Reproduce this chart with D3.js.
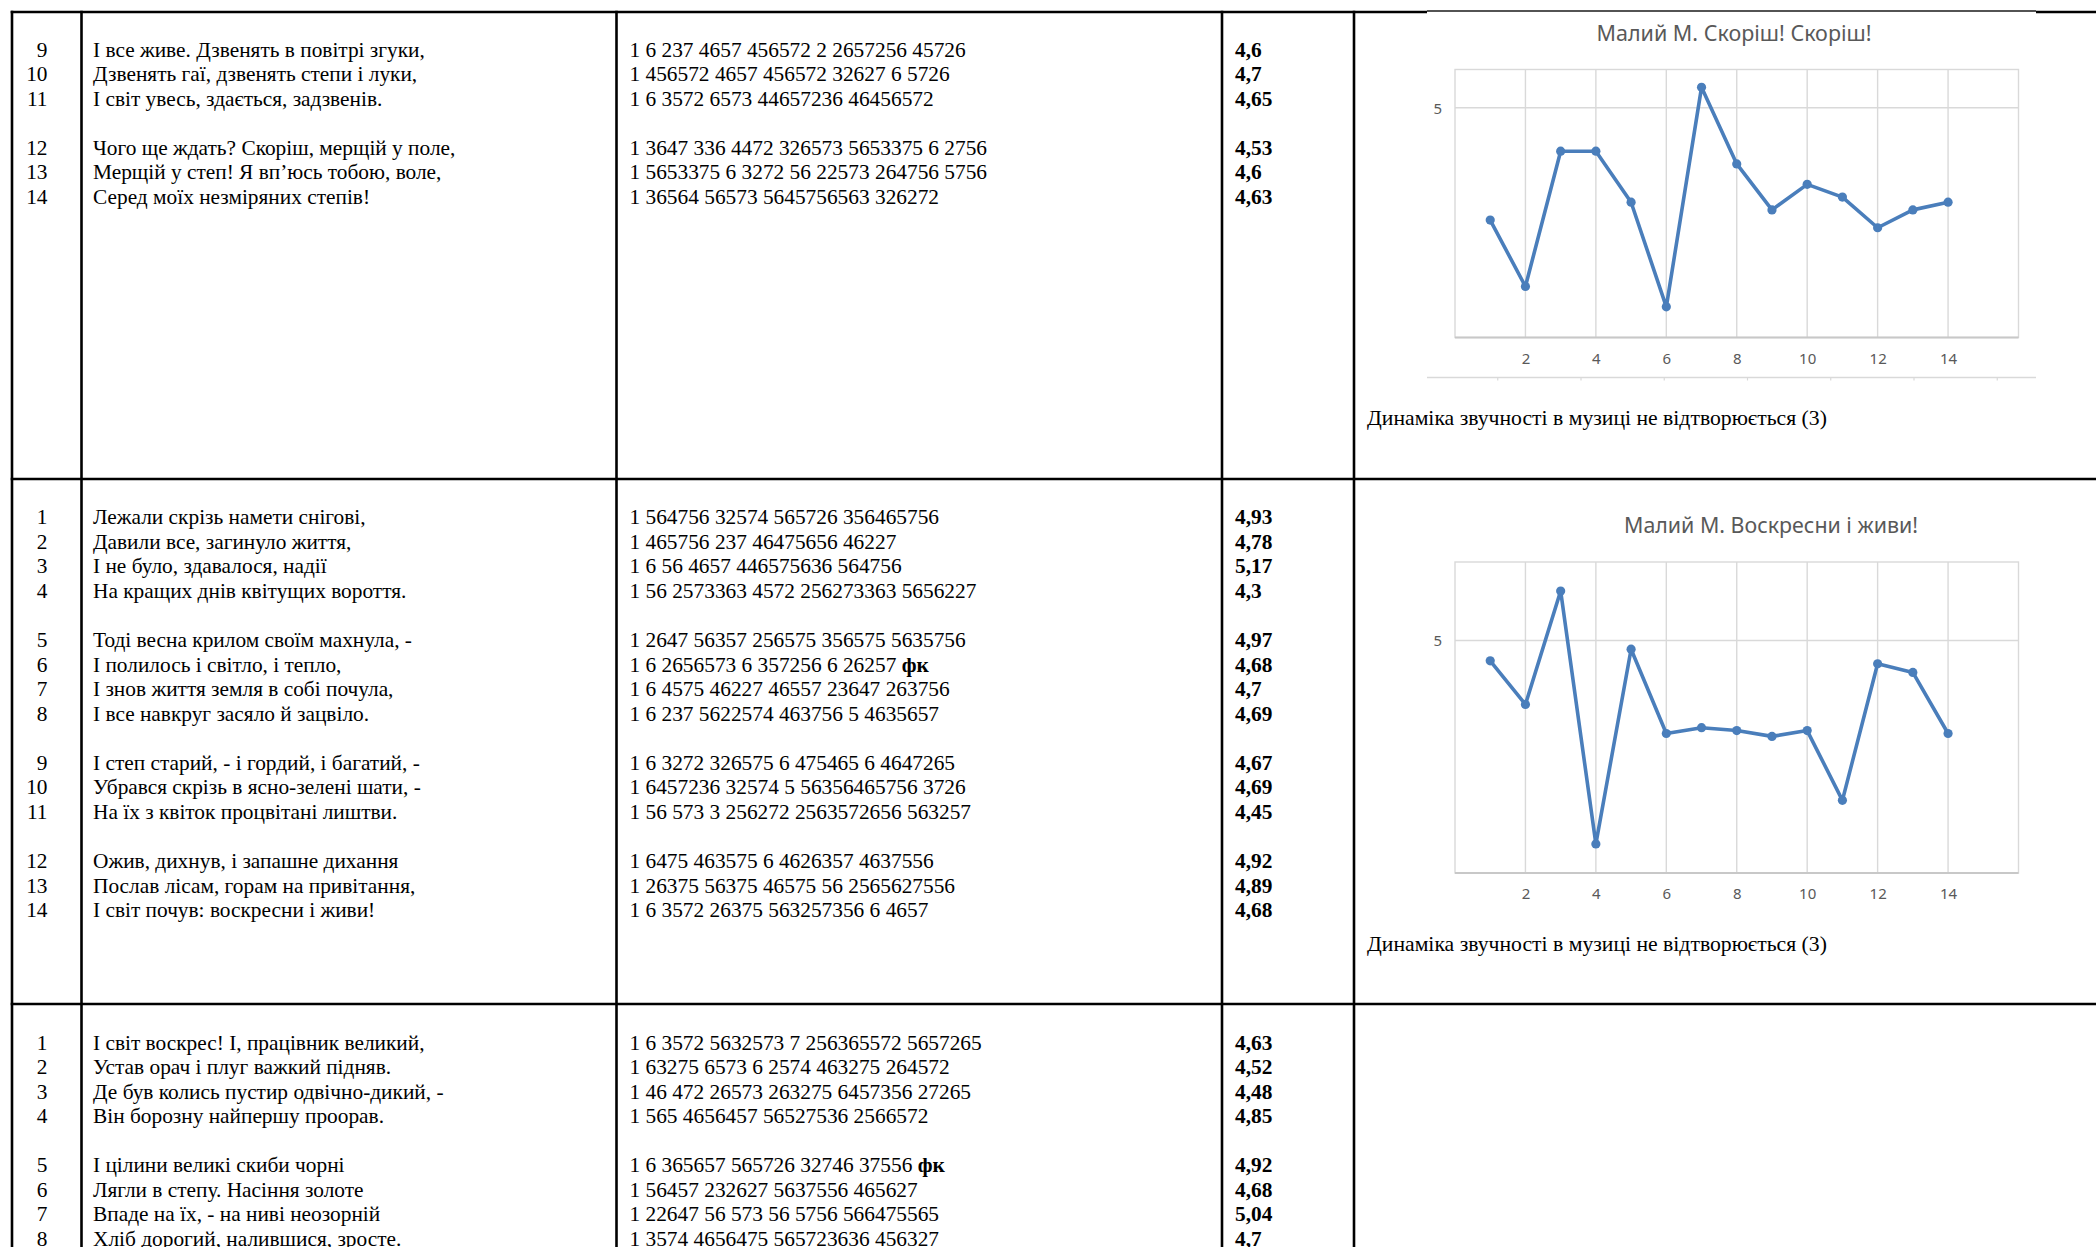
<!DOCTYPE html>
<html><head><meta charset="utf-8">
<script src="https://cdn.jsdelivr.net/npm/d3@7"></script>
<style>body{margin:0;background:#fff}svg{display:block}</style>
</head><body>
<script>
// ---------------- DATA ----------------
// Section 1 (poem "Скоріш! Скоріш!", lines 9-14); null = blank line between stanzas
const sec1Numbers = [9, 10, 11, null, 12, 13, 14];
const sec1Lyrics = [
  "І все живе. Дзвенять в повітрі згуки,",
  "Дзвенять гаї, дзвенять степи і луки,",
  "І світ увесь, здається, задзвенів.",
  null,
  "Чого ще ждать? Скоріш, мерщій у поле,",
  "Мерщій у степ! Я вп’юсь тобою, воле,",
  "Серед моїх незміряних степів!"
];
const sec1Codes = [
  "1 6 237 4657 456572 2 2657256 45726",
  "1 456572 4657 456572 32627 6 5726",
  "1 6 3572 6573 44657236 46456572",
  null,
  "1 3647 336 4472 326573 5653375 6 2756",
  "1 5653375 6 3272 56 22573 264756 5756",
  "1 36564 56573 5645756563 326272"
];
const sec1Values = ["4,6", "4,7", "4,65", null, "4,53", "4,6", "4,63"];

// Section 2 (poem "Воскресни і живи!")
const sec2Numbers = [1, 2, 3, 4, null, 5, 6, 7, 8, null, 9, 10, 11, null, 12, 13, 14];
const sec2Lyrics = [
  "Лежали скрізь намети снігові,",
  "Давили все, загинуло життя,",
  "І не було, здавалося, надії",
  "На кращих днів квітущих вороття.",
  null,
  "Тоді весна крилом своїм махнула, -",
  "І полилось і світло, і тепло,",
  "І знов життя земля в собі почула,",
  "І все навкруг засяло й зацвіло.",
  null,
  "І степ старий, - і гордий, і багатий, -",
  "Убрався скрізь в ясно-зелені шати, -",
  "На їх з квіток процвітані лиштви.",
  null,
  "Ожив, дихнув, і запашне дихання",
  "Послав лісам, горам на привітання,",
  "І світ почув: воскресни і живи!"
];
const sec2Codes = [
  "1 564756 32574 565726 356465756",
  "1 465756 237 46475656 46227",
  "1 6 56 4657 446575636 564756",
  "1 56 2573363 4572 256273363 5656227",
  null,
  "1 2647 56357 256575 356575 5635756",
  "1 6 2656573 6 357256 6 26257 фк",
  "1 6 4575 46227 46557 23647 263756",
  "1 6 237 5622574 463756 5 4635657",
  null,
  "1 6 3272 326575 6 475465 6 4647265",
  "1 6457236 32574 5 56356465756 3726",
  "1 56 573 3 256272 2563572656 563257",
  null,
  "1 6475 463575 6 4626357 4637556",
  "1 26375 56375 46575 56 2565627556",
  "1 6 3572 26375 563257356 6 4657"
];
const sec2Values = ["4,93", "4,78", "5,17", "4,3", null, "4,97", "4,68", "4,7", "4,69", null,
  "4,67", "4,69", "4,45", null, "4,92", "4,89", "4,68"];

// Section 3
const sec3Numbers = [1, 2, 3, 4, null, 5, 6, 7, 8];
const sec3Lyrics = [
  "І світ воскрес! І, працівник великий,",
  "Устав орач і плуг важкий підняв.",
  "Де був колись пустир одвічно-дикий, -",
  "Він борозну найпершу проорав.",
  null,
  "І цілини великі скиби чорні",
  "Лягли в степу. Насіння золоте",
  "Впаде на їх, - на ниві неозорній",
  "Хліб дорогий, налившися, зросте."
];
const sec3Codes = [
  "1 6 3572 5632573 7 256365572 5657265",
  "1 63275 6573 6 2574 463275 264572",
  "1 46 472 26573 263275 6457356 27265",
  "1 565 4656457 56527536 2566572",
  null,
  "1 6 365657 565726 32746 37556 фк",
  "1 56457 232627 5637556 465627",
  "1 22647 56 573 56 5756 566475565",
  "1 3574 4656475 565723636 456327"
];
const sec3Values = ["4,63", "4,52", "4,48", "4,85", null, "4,92", "4,68", "5,04", "4,7"];

// Charts
const chartLineIndex = [1, 2, 3, 4, 5, 6, 7, 8, 9, 10, 11, 12, 13, 14];
const chart1Values = [4.56, 4.30, 4.83, 4.83, 4.63, 4.22, 5.08, 4.78, 4.60, 4.70, 4.65, 4.53, 4.60, 4.63];
const chart2Values = [4.93, 4.78, 5.17, 4.30, 4.97, 4.68, 4.70, 4.69, 4.67, 4.69, 4.45, 4.92, 4.89, 4.68];
const chart1Title = "Малий М. Скоріш! Скоріш!";
const chart2Title = "Малий М. Воскресни і живи!";
const xTickLabels = [2, 4, 6, 8, 10, 12, 14];
const yTickLabels = [5];
const captionText = "Динаміка звучності в музиці не відтворюється (3)";

// ---------------- DRAW ----------------
const W = 2096, H = 1247;
const svg = d3.select("body").append("svg").attr("width", W).attr("height", H)
  .style("background", "#fff");

const serif = "'Liberation Serif','Times New Roman',serif";
const sans = "'Noto Sans','Open Sans',sans-serif";

// table grid
const colX = [12, 81.5, 616.5, 1222, 1354];
const rowY = [12, 479, 1004];
const grid = svg.append("g").attr("stroke", "#000").attr("stroke-width", 2.6);
grid.selectAll("line.h").data(rowY).join("line").attr("class", "h")
  .attr("x1", 10.7).attr("x2", W).attr("y1", d => d).attr("y2", d => d);
grid.selectAll("line.v").data(colX).join("line").attr("class", "v")
  .attr("x1", d => d).attr("x2", d => d).attr("y1", 10.7).attr("y2", H);

// text sections
const pitch = 24.55;
const sections = [
  { nums: sec1Numbers, lyr: sec1Lyrics, codes: sec1Codes, vals: sec1Values, top: 49.5 },
  { nums: sec2Numbers, lyr: sec2Lyrics, codes: sec2Codes, vals: sec2Values, top: 517.3 },
  { nums: sec3Numbers, lyr: sec3Lyrics, codes: sec3Codes, vals: sec3Values, top: 1042.6 }
];
const fs = 21.35;
sections.forEach(sec => {
  const g = svg.append("g").attr("font-family", serif).attr("font-size", fs).attr("fill", "#000");
  const rows = d3.range(sec.nums.length);
  const yb = i => sec.top + i * pitch + 7;
  g.selectAll("text.n").data(rows.filter(i => sec.nums[i] != null)).join("text").attr("class", "n")
    .attr("x", 47.5).attr("y", yb).attr("text-anchor", "end").text(i => sec.nums[i]);
  g.selectAll("text.l").data(rows.filter(i => sec.lyr[i] != null)).join("text").attr("class", "l")
    .attr("x", 93).attr("y", yb).text(i => sec.lyr[i]);
  const ct = g.selectAll("text.c").data(rows.filter(i => sec.codes[i] != null)).join("text").attr("class", "c")
    .attr("x", 629.5).attr("y", yb);
  ct.each(function (i) {
    const s = sec.codes[i];
    const t = d3.select(this);
    if (s.endsWith(" фк")) {
      t.append("tspan").text(s.slice(0, -2));
      t.append("tspan").attr("font-weight", "bold").text("фк");
    } else t.text(s);
  });
  g.selectAll("text.v").data(rows.filter(i => sec.vals[i] != null)).join("text").attr("class", "v")
    .attr("x", 1235).attr("y", yb).attr("font-weight", "bold").text(i => sec.vals[i]);
});

// chart 1 image frame (covers the table border)
const frame = svg.append("g");
frame.append("rect").attr("x", 1427).attr("y", 9).attr("width", 609).attr("height", 370).attr("fill", "#fff");
frame.append("line").attr("x1", 1427).attr("x2", 2036).attr("y1", 11).attr("y2", 11)
  .attr("stroke", "#1a1a1a").attr("stroke-width", 1.3);
const frameScale = d3.scaleLinear().domain([0, 8]).range([1414, 2080]);
const frameAxis = svg.append("g").attr("transform", "translate(0,377.5)")
  .call(d3.axisBottom(frameScale).tickValues(d3.range(1, 8)).tickFormat("").tickSize(3).tickSizeOuter(0));
frameAxis.select(".domain").remove();
frameAxis.selectAll(".tick line").attr("stroke", "#d9d9d9").attr("stroke-width", 1.2);
svg.append("line").attr("x1", 1427).attr("x2", 2036).attr("y1", 377.5).attr("y2", 377.5)
  .attr("stroke", "#d9d9d9").attr("stroke-width", 1.5);

function drawChart(cfg) {
  const g = svg.append("g");
  const x = d3.scaleLinear().domain([0, 16]).range([cfg.x0, cfg.x1]);
  const y = d3.scaleLinear().domain(cfg.yDomain).range([cfg.y1, cfg.y0]);
  const gridColor = "#d9d9d9";
  // vertical gridlines
  g.append("g").selectAll("line").data(xTickLabels).join("line")
    .attr("x1", d => x(d)).attr("x2", d => x(d)).attr("y1", cfg.y0).attr("y2", cfg.y1)
    .attr("stroke", gridColor).attr("stroke-width", 1.4);
  // horizontal gridlines
  g.append("g").selectAll("line").data(yTickLabels).join("line")
    .attr("x1", cfg.x0).attr("x2", cfg.x1).attr("y1", d => y(d)).attr("y2", d => y(d))
    .attr("stroke", gridColor).attr("stroke-width", 1.4);
  // plot border
  g.append("rect").attr("x", cfg.x0).attr("y", cfg.y0).attr("width", cfg.x1 - cfg.x0)
    .attr("height", cfg.y1 - cfg.y0).attr("fill", "none").attr("stroke", gridColor).attr("stroke-width", 1.4);
  g.append("line").attr("x1", cfg.x0).attr("x2", cfg.x1).attr("y1", cfg.y1).attr("y2", cfg.y1)
    .attr("stroke", "#c8c8c8").attr("stroke-width", 1.8);
  // axes
  const xa = g.append("g").attr("transform", `translate(0,${cfg.y1})`)
    .call(d3.axisBottom(x).tickValues(xTickLabels).tickSize(0).tickPadding(0));
  xa.select(".domain").remove();
  xa.selectAll("text").attr("y", 26).attr("dy", 0).attr("font-family", sans).attr("font-size", 15).attr("fill", "#595959");
  const ya = g.append("g").attr("transform", `translate(${cfg.x0},0)`)
    .call(d3.axisLeft(y).tickValues(yTickLabels).tickFormat(d3.format("d")).tickSize(0).tickPadding(13));
  ya.select(".domain").remove();
  ya.selectAll("text").attr("dy", "0.35em").attr("font-family", sans).attr("font-size", 15).attr("fill", "#595959");
  // title
  g.append("text").attr("x", cfg.titleX).attr("y", cfg.titleY).attr("text-anchor", "middle")
    .attr("font-family", sans).attr("font-size", 22).attr("fill", "#595959")
    .attr("textLength", cfg.titleW).attr("lengthAdjust", "spacingAndGlyphs").text(cfg.title);
  // series
  const pts = chartLineIndex.map((k, i) => [k, cfg.values[i]]);
  g.append("path").datum(pts).attr("fill", "none").attr("stroke", "#4a7ebb").attr("stroke-width", 3.6)
    .attr("stroke-linejoin", "round").attr("d", d3.line().x(d => x(d[0])).y(d => y(d[1])));
  g.append("g").selectAll("circle").data(pts).join("circle")
    .attr("cx", d => x(d[0])).attr("cy", d => y(d[1])).attr("r", 4.6).attr("fill", "#4a7ebb");
  // caption
  svg.append("text").attr("x", 1367).attr("y", cfg.captionY).attr("font-family", serif)
    .attr("font-size", 21.7).attr("fill", "#000").text(captionText);
}

drawChart({ title: chart1Title, values: chart1Values, yDomain: [4.1, 5.15],
  x0: 1455, x1: 2018.5, y0: 69.5, y1: 337.5, titleX: 1734, titleY: 41, titleW: 275, captionY: 425 });
drawChart({ title: chart2Title, values: chart2Values, yDomain: [4.2, 5.27],
  x0: 1455, x1: 2018.5, y0: 562, y1: 873, titleX: 1771, titleY: 533, titleW: 294, captionY: 951 });
</script>
</body></html>
